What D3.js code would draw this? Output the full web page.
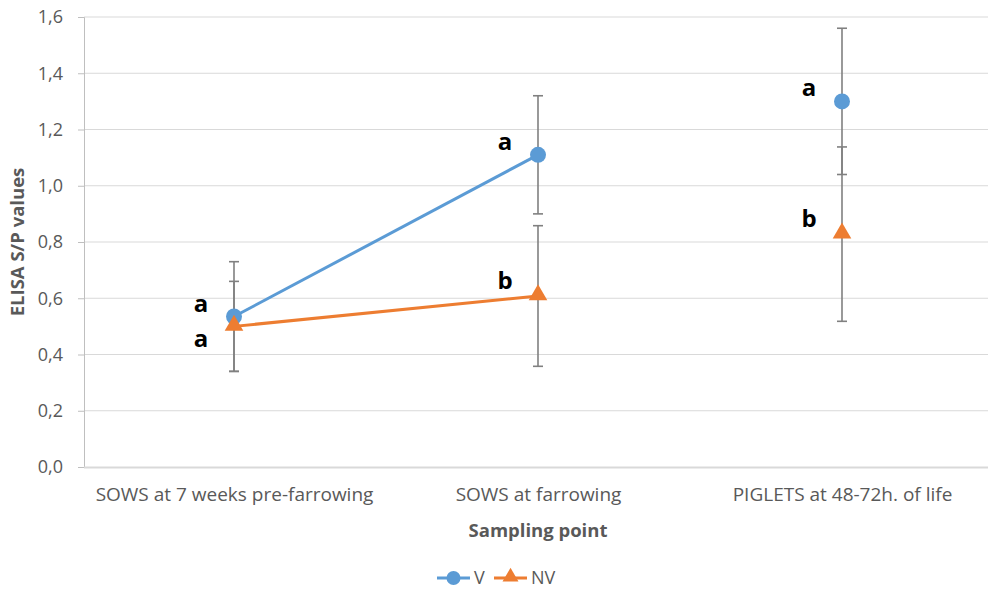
<!DOCTYPE html>
<html>
<head>
<meta charset="utf-8">
<script src="https://cdn.jsdelivr.net/npm/d3@7"></script>
<style>
  body { margin: 0; background: #fff; }
  svg, svg text { font-family: "Open Sans", "Liberation Sans", sans-serif; }
</style>
</head>
<body>
<svg id="chart" width="988" height="592"></svg>
<script>
var categories = ["SOWS at 7 weeks pre-farrowing", "SOWS at farrowing", "PIGLETS at 48-72h. of life"];
var seriesNames = ["V", "NV"];
var vValues = [0.535, 1.11, 1.30];
var vErrors = [0.195, 0.21, 0.26];
var vLetters = ["a", "a", "a"];
var vLetterSide = ["above", "above", "above"];
var nvValues = [0.50, 0.608, 0.828];
var nvErrors = [0.16, 0.25, 0.31];
var nvLetters = ["a", "b", "b"];
var nvLetterSide = ["below", "above", "above"];
var yTicks = [0, 0.2, 0.4, 0.6, 0.8, 1.0, 1.2, 1.4, 1.6];
var colors = { V: "#5B9BD5", NV: "#ED7D31" };

var svg = d3.select("#chart");
var plot = { left: 84, right: 994, top: 17, bottom: 467 };

var x = d3.scalePoint()
  .domain(categories)
  .range([plot.left - 2, plot.right])
  .padding(0.5);

var y = d3.scaleLinear()
  .domain([0, 1.6])
  .range([plot.bottom, plot.top]);

var fmt = function(d) { return d3.format(".1f")(d).replace(".", ","); };

// gridlines
svg.append("g")
  .selectAll("line")
  .data(yTicks.slice(1))
  .enter().append("line")
    .attr("x1", plot.left)
    .attr("x2", 988)
    .attr("y1", d => y(d))
    .attr("y2", d => y(d))
    .style("stroke", "#d9d9d9")
    .style("stroke-width", "1px");

// y axis
var yAxis = svg.append("g")
  .attr("transform", `translate(${plot.left}, 0)`)
  .call(d3.axisLeft(y).tickValues(yTicks).tickFormat(fmt).tickSize(6).tickPadding(15));
yAxis.attr("font-family", null);
yAxis.select(".domain").style("stroke", "#bfbfbf");
yAxis.selectAll(".tick line").style("stroke", "#bfbfbf");
yAxis.selectAll("text")
  .style("font-size", "18px")
  .style("fill", "#595959");

// x axis
var xAxis = svg.append("g")
  .attr("transform", `translate(0, ${plot.bottom})`)
  .call(d3.axisBottom(x).tickSize(0).tickPadding(21));
xAxis.attr("font-family", null);
xAxis.select(".domain")
  .attr("d", `M${plot.left},0.5H988`)
  .style("stroke", "#d9d9d9")
  .style("stroke-width", "2px");
xAxis.selectAll("text")
  .style("font-size", "19px")
  .style("fill", "#595959");

// axis titles
svg.append("text")
  .attr("transform", `translate(24, ${(plot.top + plot.bottom) / 2}) rotate(-90)`)
  .attr("text-anchor", "middle")
  .style("font-size", "18.5px")
  .style("font-weight", "bold")
  .style("fill", "#595959")
  .text("ELISA S/P values");

svg.append("text")
  .attr("x", x(categories[1]))
  .attr("y", 537)
  .attr("text-anchor", "middle")
  .style("font-size", "18.5px")
  .style("font-weight", "bold")
  .style("fill", "#595959")
  .text("Sampling point");

var series = [
  { name: "V", values: vValues, errors: vErrors, letters: vLetters, side: vLetterSide },
  { name: "NV", values: nvValues, errors: nvErrors, letters: nvLetters, side: nvLetterSide }
];

function rows(s) {
  return categories.map((c, i) => ({ cat: c, i: i, v: s.values[i], e: s.errors[i], letter: s.letters[i], side: s.side[i], name: s.name }));
}

// error bars
series.forEach(s => {
  var g = svg.append("g").attr("class", "err");
  var r = rows(s);
  g.selectAll("line.bar").data(r).enter().append("line")
    .attr("x1", d => x(d.cat)).attr("x2", d => x(d.cat))
    .attr("y1", d => y(d.v - d.e)).attr("y2", d => y(d.v + d.e))
    .style("stroke", "#808080").style("stroke-width", "1.6px");
  [-1, 1].forEach(sign => {
    g.selectAll("line.cap" + sign).data(r).enter().append("line")
      .attr("x1", d => x(d.cat) - 5).attr("x2", d => x(d.cat) + 5)
      .attr("y1", d => y(d.v + sign * d.e)).attr("y2", d => y(d.v + sign * d.e))
      .style("stroke", "#808080").style("stroke-width", "1.6px");
  });
});

// lines (only the two sow sampling points are joined)
var line = d3.line()
  .defined(d => d.i < 2)
  .x(d => x(d.cat))
  .y(d => y(d.v));

series.forEach(s => {
  svg.append("path")
    .datum(rows(s))
    .attr("d", line)
    .style("fill", "none")
    .style("stroke", colors[s.name])
    .style("stroke-width", "3px");
});

var triangle = d3.symbol().type(d3.symbolTriangle).size(150);

// markers
svg.append("g").selectAll("circle")
  .data(rows(series[0]))
  .enter().append("circle")
    .attr("cx", d => x(d.cat))
    .attr("cy", d => y(d.v))
    .attr("r", 8)
    .style("fill", colors.V);

svg.append("g").selectAll("path")
  .data(rows(series[1]))
  .enter().append("path")
    .attr("d", triangle)
    .attr("transform", d => `translate(${x(d.cat)}, ${y(d.v) - 1})`)
    .style("fill", colors.NV);

// significance letters
series.forEach(s => {
  svg.append("g").selectAll("text")
    .data(rows(s))
    .enter().append("text")
      .attr("x", d => x(d.cat) - 33)
      .attr("y", d => y(d.v) + (d.side === "above" ? (s.name === "V" ? -5 : -7) : 21))
      .attr("text-anchor", "middle")
      .style("font-size", "24px")
      .style("font-weight", "bold")
      .style("fill", "#000")
      .text(d => d.letter);
});

// legend
var legend = svg.append("g").attr("transform", "translate(437, 578)");
seriesNames.forEach((n, i) => {
  var g = legend.append("g").attr("transform", `translate(${i * 57}, 0)`);
  g.append("line").attr("x1", 0).attr("x2", 33).attr("y1", 0).attr("y2", 0)
    .style("stroke", colors[n]).style("stroke-width", "3px");
  if (n === "V") {
    g.append("circle").attr("cx", 16.5).attr("cy", 0).attr("r", 7).style("fill", colors[n]);
  } else {
    g.append("path").attr("d", d3.symbol().type(d3.symbolTriangle).size(110))
      .attr("transform", "translate(16.5, -1)").style("fill", colors[n]);
  }
  g.append("text").attr("x", 37).attr("y", 6)
    .style("font-size", "18px").style("fill", "#595959").text(n);
});
</script>
</body>
</html>
